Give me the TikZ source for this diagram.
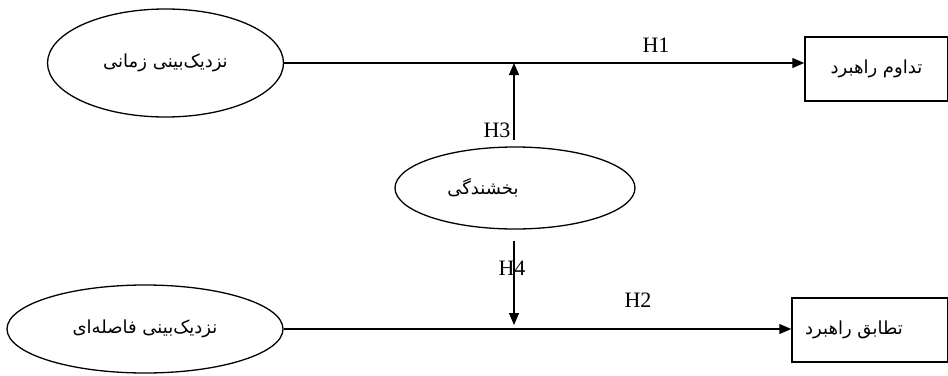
\documentclass[tikz,border=0pt]{standalone}
\usepackage{fontspec}
\setmainfont{Liberation Serif}
\newfontfamily\arabicfont[Script=Arabic]{DejaVu Sans}
\TeXXeTstate=1
\usetikzlibrary{arrows.meta,shapes.geometric}
\begin{document}
\begin{tikzpicture}[x=1pt,y=-1pt, line width=1.3pt,
  ell/.style={draw, ellipse, inner sep=0pt},
  box/.style={draw, rectangle, line width=1.5pt, inner sep=0pt},
  fa/.style={font=\arabicfont\fontsize{18}{20}\selectfont},
  hl/.style={font=\fontsize{22}{24}\selectfont, inner sep=0pt},
  arr/.style={-{Triangle[length=12pt,width=10pt]}}]
\useasboundingbox (0,0) rectangle (948,375);
\node[ell, minimum width=236, minimum height=108, fa] (e1) at (165.5,63) {\beginR نزدیک‌بینی زمانی\endR};
\node[ell, minimum width=276, minimum height=88, fa] (e2) at (145,329) {\beginR نزدیک‌بینی فاصله‌ای\endR};
\node[ell, minimum width=240, minimum height=82, fa] (e3) at (515,188) {\beginR بخشندگی\endR\hspace*{64pt}};
\node[box, minimum width=143, minimum height=64, fa] (b1) at (876.5,69) {\beginR تداوم راهبرد\endR};
\node[box, minimum width=156, minimum height=64, fa] (b2) at (870,330) {\beginR تطابق راهبرد\endR\hspace*{32pt}};
\draw[arr] (e1.east) -- (e1.east -| b1.west);
\draw[arr] (e2.east) -- (e2.east -| b2.west);
\coordinate (h3s) at (514,140);
\draw[arr] (h3s) -- (h3s |- e1.east);
\coordinate (h4s) at (514,241);
\coordinate (h4e) at (514,325);
\draw[arr] (h4s) -- (h4e);
\node[hl] (l1) at (656,45) {H1};
\node[hl] (l2) at (638,300) {H2};
\node[hl] (l3) at (497,130) {H3};
\node[hl] (l4) at (512,268) {H4};
\end{tikzpicture}
\end{document}
